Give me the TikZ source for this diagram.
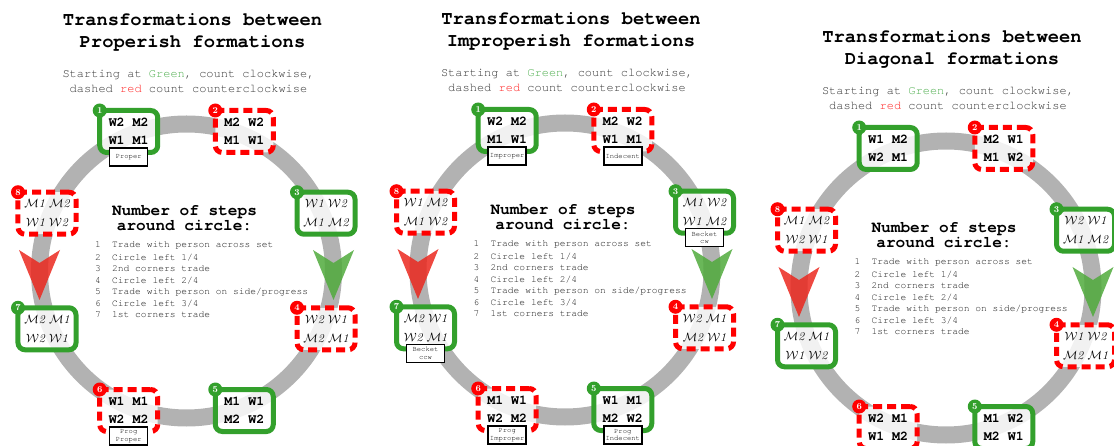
\documentclass[tikz,border=0pt]{standalone}
\usepackage{fontspec}
\setmonofont{TeX Gyre Cursor}
\usetikzlibrary{calc}

\definecolor{formgreen}{RGB}{51,160,44}
\definecolor{formred}{RGB}{255,0,0}
\definecolor{ringgray}{RGB}{178,178,178}
\definecolor{subgray}{RGB}{55,55,55}
\definecolor{listgray}{RGB}{30,30,30}
\definecolor{textgreen}{RGB}{80,175,80}
\definecolor{textred}{RGB}{255,35,35}
\definecolor{arrowred}{RGB}{235,40,30}
\definecolor{arrowgreen}{RGB}{80,170,60}

\newcommand{\calW}{$\mathcal{W}$}
\newcommand{\calM}{$\mathcal{M}$}
\newcommand{\fmtitle}{\ttfamily\bfseries\fontsize{18.8}{22}\selectfont}
\newcommand{\fmsub}{\ttfamily\fontsize{12}{15}\selectfont}
\newcommand{\fmhead}{\ttfamily\bfseries\fontsize{16.1}{15}\selectfont}
\newcommand{\fmstep}{\ttfamily\fontsize{9.6}{11.5}\selectfont}
\newcommand{\fmplain}{\ttfamily\bfseries\fontsize{13.3}{18}\selectfont}
\newcommand{\fmcurly}{\itshape\fontsize{12}{19}\selectfont}
\newcommand{\fmtag}{\ttfamily\fontsize{7.2}{7.6}\selectfont}

\begin{document}
\begin{tikzpicture}[x=1pt, y=-1pt,
    ring/.style={draw=ringgray, line width=17pt},
    formbox/.style={rounded corners=7pt, line width=5pt, fill=white, fill opacity=0.82,
        text opacity=1, minimum width=58pt, minimum height=42pt, inner sep=0pt,
        outer sep=0pt, align=center},
    gplain/.style={formbox, draw=formgreen, font=\fmplain},
    rplain/.style={formbox, draw=formred, dash pattern=on 9pt off 5pt, font=\fmplain},
    gcurly/.style={formbox, draw=formgreen, font=\fmcurly},
    rcurly/.style={formbox, draw=formred, dash pattern=on 9pt off 5pt, font=\fmcurly},
    badge/.style={circle, fill=#1, text=white, font=\bfseries\fontsize{9}{9}\selectfont,
        inner sep=0pt, minimum size=14pt},
    tag/.style={draw, line width=1.5pt, fill=white, text=black, font=\fmtag,
        minimum width=38pt, minimum height=18pt, inner sep=0pt, align=center},
    bigarrow/.style={fill=#1, fill opacity=0.85}]

        \useasboundingbox (0,0) rectangle (1114,446);

        % the three panels share the ring, texts and arrows
        \foreach \p/\cx/\cy/\kind in {1/186.5/271/Properish, 2/565/270/Improperish, 3/946/288/Diagonal} {
            \coordinate (c\p) at (\cx,\cy);
            \coordinate (p\p l) at ($(c\p)+(-147,0)$);
            \coordinate (p\p r) at ($(c\p)+(147,0)$);
            \foreach \k in {1,...,8}
                \coordinate (p\p n\k) at ($(c\p)+({-157.5+45*\k}:151)$);

            \path[ring] (c\p) circle (147pt);

            \node[font=\fmtitle, align=center] (p\p title) at ($(c\p)+(6,-239)$)
                {Transformations between\\\kind\ formations};
            \node[font=\fmsub, text=subgray, align=center] (p\p sub) at ($(c\p)+(2,-190)$)
                {Starting at \textcolor{textgreen}{Green}, count clockwise,\\dashed \textcolor{textred}{red} count counterclockwise};
            \node[font=\fmhead, align=center] (p\p head) at ($(c\p)+(-2,-53)$)
                {Number of steps\\around circle:};
            \foreach \n/\txt in {1/Trade with person across set, 2/{Circle left 1/4}, 3/2nd corners trade,
                    4/{Circle left 2/4}, 5/{Trade with person on side/progress}, 6/{Circle left 3/4}, 7/1st corners trade}
                \node[font=\fmstep, text=listgray, anchor=west, inner sep=0pt] (p\p s\n)
                    at ($(c\p)+(-91.5,{-25.3+11.5*(\n-1)})$) {\makebox[17pt][l]{\n}\txt};

            \path[bigarrow=arrowred] (p\p l) ++(-20.5,-21) -- ++(20.5,13) -- ++(20.5,-13) -- ++(-20.5,50) -- cycle;
            \path[bigarrow=arrowgreen] (p\p r) ++(-20.5,-21) -- ++(20.5,13) -- ++(20.5,-13) -- ++(-20.5,50) -- cycle;
        }

        % Properish
        \foreach \k/\look/\rowa/\rowb in {1/gplain/W2 M2/W1 M1, 2/rplain/M2 W2/M1 W1,
                3/gcurly/\calW1 \calW2/\calM1 \calM2, 4/rcurly/\calW2 \calW1/\calM2 \calM1,
                5/gplain/M1 W1/M2 W2, 6/rplain/W1 M1/W2 M2,
                7/gcurly/\calM2 \calM1/\calW2 \calW1, 8/rcurly/\calM1 \calM2/\calW1 \calW2}
            \node[\look] (p1b\k) at (p1n\k) {\rowa\\\rowb};

        % Improperish
        \foreach \k/\look/\rowa/\rowb in {1/gplain/W2 M2/M1 W1, 2/rplain/M2 W2/W1 M1,
                3/gcurly/\calM1 \calW2/\calW1 \calM2, 4/rcurly/\calW2 \calM1/\calM2 \calW1,
                5/gplain/W1 M1/M2 W2, 6/rplain/M1 W1/W2 M2,
                7/gcurly/\calM2 \calW1/\calW2 \calM1, 8/rcurly/\calW1 \calM2/\calM1 \calW2}
            \node[\look] (p2b\k) at (p2n\k) {\rowa\\\rowb};

        % Diagonal
        \foreach \k/\look/\rowa/\rowb in {1/gplain/W1 M2/W2 M1, 2/rplain/M2 W1/M1 W2,
                3/gcurly/\calW2 \calW1/\calM1 \calM2, 4/rcurly/\calW1 \calW2/\calM2 \calM1,
                5/gplain/M1 W2/M2 W1, 6/rplain/W2 M1/W1 M2,
                7/gcurly/\calM2 \calM1/\calW1 \calW2, 8/rcurly/\calM1 \calM2/\calW2 \calW1}
            \node[\look] (p3b\k) at (p3n\k) {\rowa\\\rowb};

        \foreach \b/\name in {p1b1/Proper, p1b6/{Prog\\Proper}, p2b1/Improper, p2b2/Indecent,
                p2b3/{Becket\\cw}, p2b7/{Becket\\ccw}, p2b6/{Prog\\Improper}, p2b5/{Prog\\Indecent}}
            \node[tag] (\b tag) at ($(\b)+(0,25.5)$) {\name};

        \foreach \p in {1,2,3} {
            \foreach \k in {1,3,5,7}
                \node[badge=formgreen] (p\p d\k) at (p\p b\k.north west) {\k};
            \foreach \k in {2,4,6,8}
                \node[badge=formred] (p\p d\k) at (p\p b\k.north west) {\k};
        }

\end{tikzpicture}
\end{document}
